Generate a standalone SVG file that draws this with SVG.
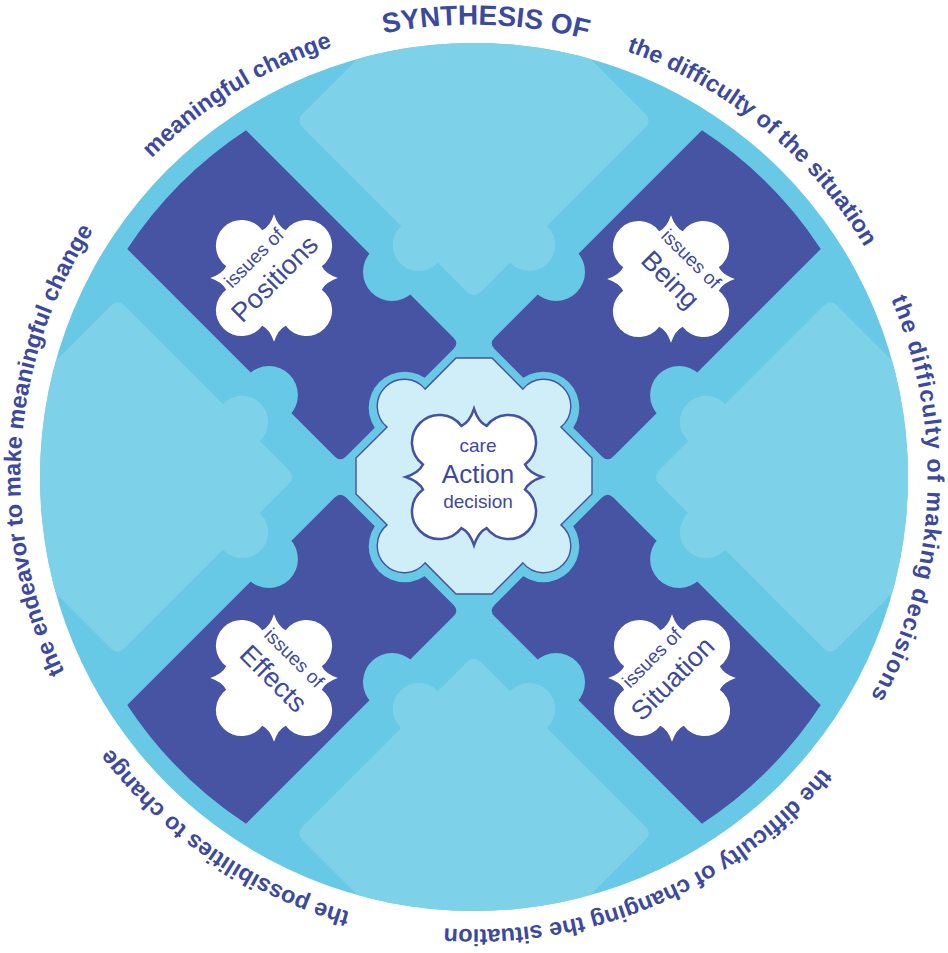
<svg xmlns="http://www.w3.org/2000/svg" width="948" height="953" viewBox="0 0 948 953">
<defs>
<style>
.arc{font-family:"Liberation Sans",Arial,sans-serif;font-weight:bold;font-size:23.5px;fill:#3C4A9E;text-anchor:middle}
.big{font-size:28px}
.lbl{font-family:"Liberation Sans",Arial,sans-serif;fill:#3E4A9C;text-anchor:middle}
.sm{font-size:19px}
.lg{font-size:27px}
.dark{fill:#4753A3}
.mid{fill:#67C9E5}
.light{fill:#7DD2E9}
.cloud{fill:#FFFFFF}
</style>
<clipPath id="disc"><circle cx="474" cy="477" r="434"/></clipPath>
<path id="ring" d="M395.51,922.13 A452,452 0 1,1 552.49,31.87 A452,452 0 1,1 395.51,922.13" fill="none"/>
<g id="armShape">
<path class="dark" d="M113,-84 L406.4,-84 A415,415 0 0,1 406.4,84 L113,84 Q105,84 105,76 L105,-76 Q105,-84 113,-84 Z"/>
<circle class="mid" cx="203" cy="87" r="29"/>
<circle class="mid" cx="203" cy="-87" r="29"/>
<circle class="mid" cx="98" cy="0" r="36"/>
</g>
<g id="pieceShape" class="light">
<path d="M185.3,-7.1 L349.3,-171.1 Q356.4,-178.2 363.5,-171.1 L527.5,-7.1 Q534.6,0 527.5,7.1 L363.5,171.1 Q356.4,178.2 349.3,171.1 L185.3,7.1 Q178.2,0 185.3,-7.1 Z"/>
<circle cx="231.9" cy="-55.2" r="26"/>
<circle cx="231.9" cy="55.2" r="26"/>
</g>
<path id="cloud" d="M0,-62 Q4,-50 11.4,-46.4 A25,25 0 1,1 46.4,-11.4 Q50,-4 62,0 Q50,4 46.4,11.4 A25,25 0 1,1 11.4,46.4 Q4,50 0,62 Q-4,50 -11.4,46.4 A25,25 0 1,1 -46.4,11.4 Q-50,4 -62,0 Q-50,-4 -46.4,-11.4 A25,25 0 1,1 -11.4,-46.4 Q-4,-50 0,-62 Z"/>
</defs>

<circle id="disc-bg" class="mid" cx="474" cy="477" r="434"/>

<g id="node-positions">
<use href="#armShape" transform="translate(474 477) rotate(225)"/>
<use href="#cloud" class="cloud" transform="translate(274 278) scale(1.03)"/>
<g transform="translate(274 278) rotate(-45)">
<text class="lbl sm" x="0" y="-22">issues of</text>
<text class="lbl lg" x="0" y="10">Positions</text>
</g>
</g>

<g id="node-being">
<use href="#armShape" transform="translate(474 477) rotate(315)"/>
<use href="#cloud" class="cloud" transform="translate(671 279) scale(1.03)"/>
<g transform="translate(671 279) rotate(45)">
<text class="lbl sm" x="0" y="-22">issues of</text>
<text class="lbl lg" x="0" y="10">Being</text>
</g>
</g>

<g id="node-effects">
<use href="#armShape" transform="translate(474 477) rotate(135)"/>
<use href="#cloud" class="cloud" transform="translate(274 678) scale(1.03)"/>
<g transform="translate(274 678) rotate(45)">
<text class="lbl sm" x="0" y="-22">issues of</text>
<text class="lbl lg" x="0" y="10">Effects</text>
</g>
</g>

<g id="node-situation">
<use href="#armShape" transform="translate(474 477) rotate(45)"/>
<use href="#cloud" class="cloud" transform="translate(672 678) scale(1.03)"/>
<g transform="translate(672 678) rotate(-45)">
<text class="lbl sm" x="0" y="-22">issues of</text>
<text class="lbl lg" x="0" y="10">Situation</text>
</g>
</g>

<g id="light-pieces" clip-path="url(#disc)">
<use href="#pieceShape" transform="translate(474 477) rotate(270)"/>
<use href="#pieceShape" transform="translate(474 477) rotate(0)"/>
<use href="#pieceShape" transform="translate(474 477) rotate(90)"/>
<use href="#pieceShape" transform="translate(474 477) rotate(180)"/>
</g>

<g id="node-action">
<path transform="translate(474 476)" fill="#CFEEF7" stroke="#4452A0" stroke-width="1.4" d="M-18,-118 L18,-118 L48.9,-86.9 A27,27 0 1,1 86.9,-48.9 L118,-18 L118,18 L86.9,48.9 A27,27 0 1,1 48.9,86.9 L18,118 L-18,118 L-48.9,86.9 A27,27 0 1,1 -86.9,48.9 L-118,18 L-118,-18 L-86.9,-48.9 A27,27 0 1,1 -48.9,-86.9 Z"/>
<use href="#cloud" class="cloud" stroke="#4452A0" stroke-width="2.3" transform="translate(474 477) scale(1.1)"/>
<text class="lbl" x="478" y="452" font-size="19">care</text>
<text class="lbl" x="478" y="483" font-size="26">Action</text>
<text class="lbl" x="478" y="508" font-size="19">decision</text>
</g>

<g id="connectors"></g>

<g id="ring-labels">
<text class="arc big"><textPath href="#ring" startOffset="1356">SYNTHESIS OF</textPath></text>
<text class="arc"><textPath href="#ring" startOffset="1093">meaningful change</textPath></text>
<text class="arc"><textPath href="#ring" startOffset="1657">the difficulty of the situation</textPath></text>
<text class="arc" letter-spacing="1.2"><textPath href="#ring" startOffset="2079">the difficulty of making decisions</textPath></text>
<text class="arc"><textPath href="#ring" startOffset="2584">the difficulty of changing the situation</textPath></text>
<text class="arc"><textPath href="#ring" startOffset="194">the possibilities to change</textPath></text>
<text class="arc"><textPath href="#ring" startOffset="662">the endeavor to make meaningful change</textPath></text>
</g>
</svg>
